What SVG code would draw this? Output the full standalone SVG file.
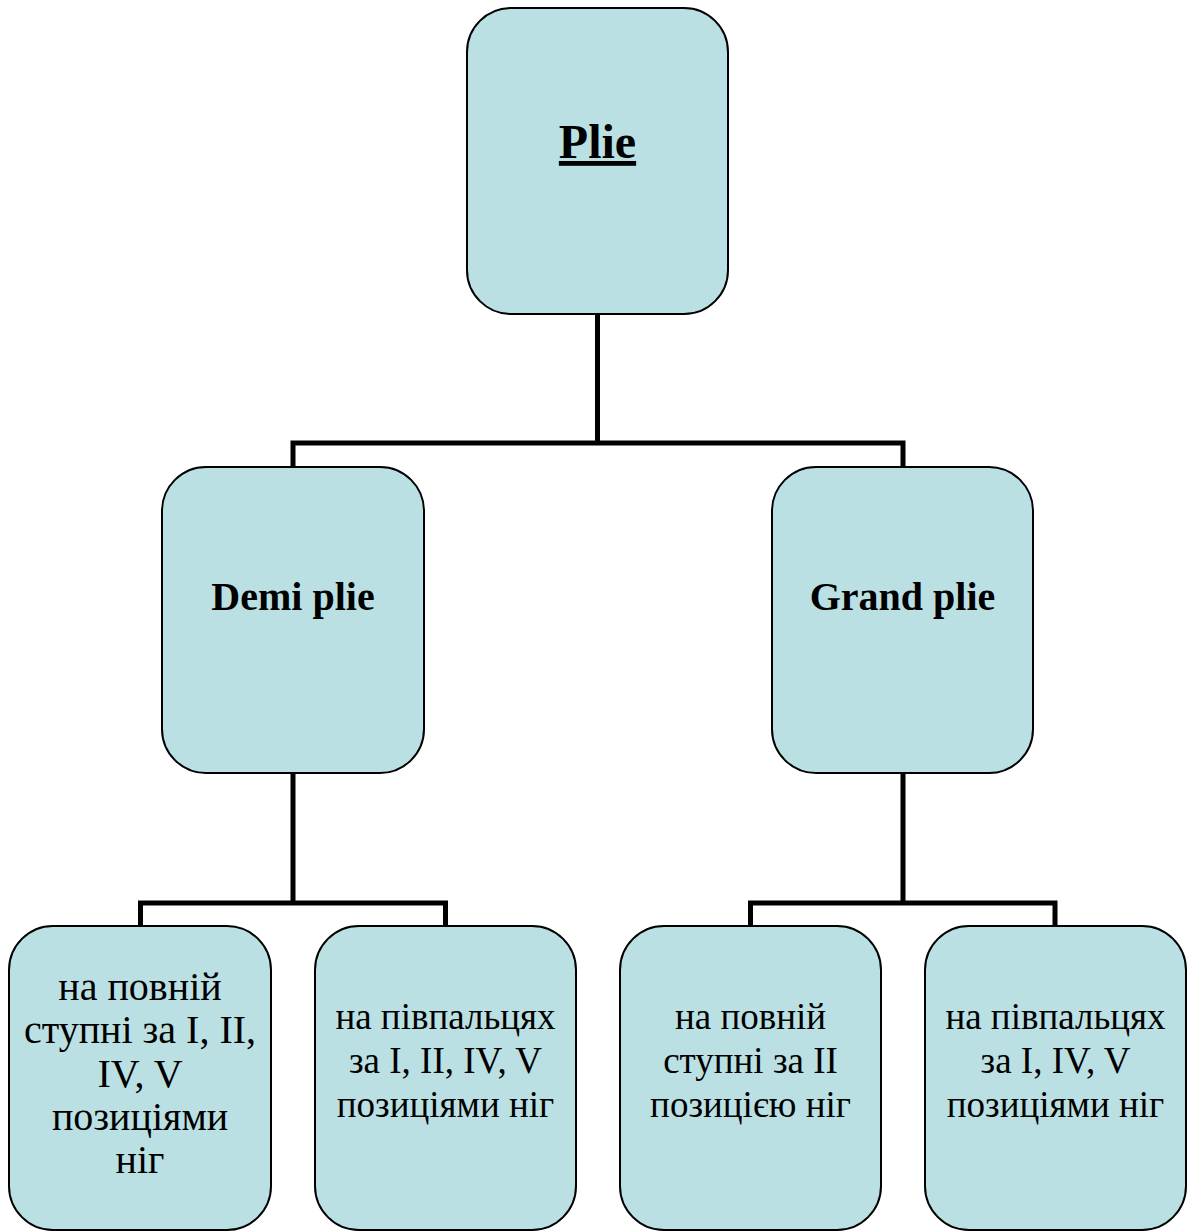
<svg xmlns="http://www.w3.org/2000/svg" width="1187" height="1232" viewBox="0 0 1187 1232">
  <style>
    .box { fill: #BBE0E3; stroke: #000; stroke-width: 2; }
    .wire { fill: none; stroke: #000; stroke-width: 5; stroke-linejoin: miter; }
    .head { font-family: "Liberation Serif", "Times New Roman", serif; font-weight: bold; fill: #000; text-anchor: middle; }
    .leaf { font-family: "Liberation Serif", "Times New Roman", serif; font-size: 37px; fill: #000; text-anchor: middle; }
    .leaf.big { font-size: 40px; }
  </style>
  <rect width="1187" height="1232" fill="#fff"/>

  <!-- tree connectors -->
  <g id="connectors">
    <path class="wire" d="M597.5 314 V443"/>
    <path class="wire" d="M293 467 V443 H903 V467"/>
    <path class="wire" d="M293 773 V903"/>
    <path class="wire" d="M140.5 926 V903 H445.5 V926"/>
    <path class="wire" d="M903 773 V903"/>
    <path class="wire" d="M750.5 926 V903 H1055 V926"/>
  </g>

  <!-- root -->
  <g id="plie">
    <rect class="box" x="467" y="8" width="261" height="306" rx="44" ry="44"/>
    <text class="head" x="597.5" y="158" font-size="48" text-decoration="underline">Plie</text>
  </g>

  <!-- second level -->
  <g id="demi-plie">
    <rect class="box" x="162" y="467" width="262" height="306" rx="44" ry="44"/>
    <text class="head" x="293" y="610" font-size="40">Demi plie</text>
  </g>
  <g id="grand-plie">
    <rect class="box" x="772" y="467" width="261" height="306" rx="44" ry="44"/>
    <text class="head" x="902.5" y="610" font-size="40">Grand plie</text>
  </g>

  <!-- leaves -->
  <g id="demi-full-foot">
    <rect class="box" x="9" y="926" width="262" height="304" rx="44" ry="44"/>
    <text class="leaf big" x="140" y="1000">на повній</text>
    <text class="leaf big" x="140" y="1043">ступні за I, II,</text>
    <text class="leaf big" x="140" y="1087">IV, V</text>
    <text class="leaf big" x="140" y="1130">позиціями</text>
    <text class="leaf big" x="140" y="1173">ніг</text>
  </g>
  <g id="demi-half-toe">
    <rect class="box" x="315" y="926" width="261" height="304" rx="44" ry="44"/>
    <text class="leaf" x="445.5" y="1029">на півпальцях</text>
    <text class="leaf" x="445.5" y="1073">за I, II, IV, V</text>
    <text class="leaf" x="445.5" y="1117">позиціями ніг</text>
  </g>
  <g id="grand-full-foot">
    <rect class="box" x="620" y="926" width="261" height="304" rx="44" ry="44"/>
    <text class="leaf" x="750.5" y="1029">на повній</text>
    <text class="leaf" x="750.5" y="1073">ступні за II</text>
    <text class="leaf" x="750.5" y="1117">позицією ніг</text>
  </g>
  <g id="grand-half-toe">
    <rect class="box" x="925" y="926" width="261" height="304" rx="44" ry="44"/>
    <text class="leaf" x="1055.5" y="1029">на півпальцях</text>
    <text class="leaf" x="1055.5" y="1073">за I, IV, V</text>
    <text class="leaf" x="1055.5" y="1117">позиціями ніг</text>
  </g>
</svg>
